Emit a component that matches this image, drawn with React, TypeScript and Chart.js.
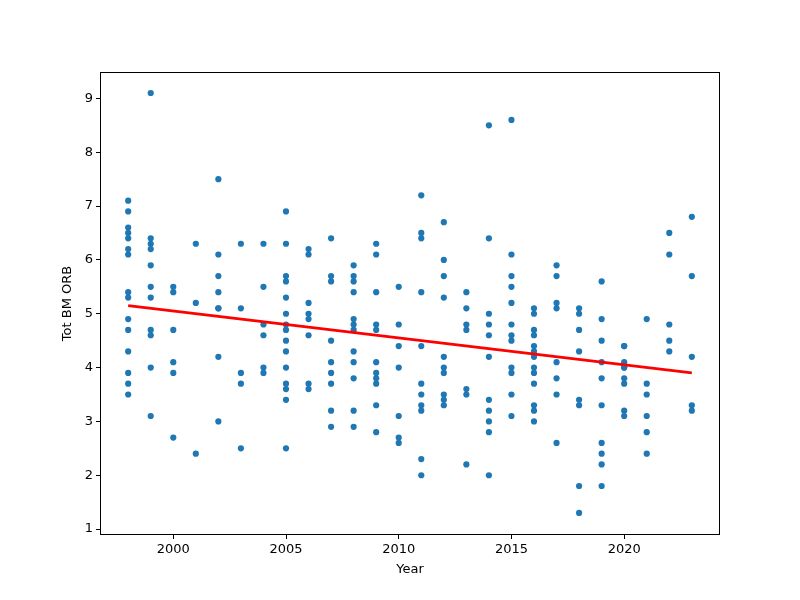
import { useEffect, useRef } from "react";
import { Chart, registerables } from "chart.js";

Chart.register(...registerables);

// one list of Tot BM ORB values per year
const years = [
  1998, 1999, 2000, 2001, 2002, 2003, 2004, 2005, 2006, 2007, 2008, 2009, 2010,
  2011, 2012, 2013, 2014, 2015, 2016, 2017, 2018, 2019, 2020, 2021, 2022, 2023,
];
const orbByYear: number[][] = [
  [7.1, 6.9, 6.6, 6.5, 6.4, 6.2, 6.1, 5.4, 5.3, 4.9, 4.7, 4.3, 3.9, 3.7, 3.5],
  [9.1, 6.4, 6.3, 6.2, 5.9, 5.5, 5.3, 4.7, 4.6, 4.0, 3.1],
  [5.5, 5.4, 4.7, 4.1, 3.9, 2.7],
  [6.3, 5.2, 2.4],
  [7.5, 6.1, 5.7, 5.4, 5.1, 5.1, 4.2, 3.0],
  [6.3, 5.1, 3.9, 3.7, 2.5],
  [6.3, 5.5, 4.8, 4.6, 4.0, 3.9],
  [6.9, 6.3, 5.7, 5.6, 5.3, 5.0, 4.8, 4.7, 4.5, 4.3, 4.0, 3.7, 3.6, 3.4, 2.5],
  [6.2, 6.1, 5.2, 5.0, 4.9, 4.6, 3.7, 3.6],
  [6.4, 5.7, 5.6, 4.5, 4.1, 3.9, 3.7, 3.2, 2.9],
  [5.9, 5.7, 5.6, 5.4, 4.9, 4.8, 4.7, 4.3, 4.1, 3.8, 3.2, 2.9],
  [6.3, 6.1, 5.4, 4.8, 4.7, 4.1, 3.9, 3.8, 3.7, 3.3, 2.8],
  [5.5, 4.8, 4.4, 4.0, 3.1, 2.7, 2.6],
  [7.2, 6.5, 6.4, 5.4, 4.4, 3.7, 3.5, 3.3, 3.2, 2.3, 2.0],
  [6.7, 6.0, 5.7, 5.3, 4.2, 4.0, 3.9, 3.5, 3.4, 3.3],
  [5.4, 5.1, 4.8, 4.7, 3.6, 3.5, 2.2],
  [8.5, 6.4, 5.0, 4.8, 4.6, 4.2, 3.4, 3.2, 3.0, 2.8, 2.0],
  [8.6, 6.1, 5.7, 5.5, 5.2, 4.8, 4.6, 4.5, 4.0, 3.9, 3.5, 3.1],
  [5.1, 5.0, 4.7, 4.6, 4.4, 4.3, 4.2, 4.0, 3.9, 3.7, 3.3, 3.2, 3.0],
  [5.9, 5.7, 5.2, 5.1, 4.1, 3.8, 3.5, 2.6],
  [5.1, 5.0, 4.7, 4.3, 3.4, 3.3, 1.8, 1.3],
  [5.6, 4.9, 4.5, 4.1, 3.8, 3.3, 2.6, 2.4, 2.2, 1.8],
  [4.4, 4.4, 4.1, 4.0, 4.0, 3.8, 3.7, 3.2, 3.1],
  [4.9, 3.7, 3.5, 3.1, 2.8, 2.4],
  [6.5, 6.1, 4.8, 4.5, 4.3],
  [6.8, 5.7, 4.2, 3.3, 3.2],
];

// fitted trend line at both ends
const trendYears = [1998, 2023];
const trendValues = [5.15, 3.9];

const xTicks = [2000, 2005, 2010, 2015, 2020];
const yTicks = [1, 2, 3, 4, 5, 6, 7, 8, 9];

const frame = {
  id: "frame",
  afterDraw(chart: Chart) {
    const { ctx, chartArea } = chart;
    ctx.save();
    ctx.strokeStyle = "#000";
    ctx.lineWidth = 1;
    ctx.strokeRect(
      Math.round(chartArea.left) + 0.5,
      Math.round(chartArea.top) + 0.5,
      Math.round(chartArea.right - chartArea.left) - 1,
      Math.round(chartArea.bottom - chartArea.top) - 1
    );
    ctx.restore();
  },
};

const App = () => {
  const chartRef = useRef<HTMLCanvasElement | null>(null);
  const chartInstanceRef = useRef<Chart | null>(null);

  useEffect(() => {
    if (!chartRef.current) return;
    const ctx = chartRef.current.getContext("2d");
    if (!ctx) return;
    if (chartInstanceRef.current) chartInstanceRef.current.destroy();

    const points: { x: number; y: number }[] = [];
    years.forEach((yr, i) => {
      orbByYear[i].forEach((v) => points.push({ x: yr, y: v }));
    });

    const font = { family: "DejaVu Sans", size: 13 };

    chartInstanceRef.current = new Chart(ctx, {
      type: "scatter",
      data: {
        datasets: [
          {
            type: "line",
            data: trendYears.map((yr, i) => ({ x: yr, y: trendValues[i] })),
            borderColor: "#ff0000",
            borderWidth: 2.8,
            pointRadius: 0,
            order: 0,
          },
          {
            data: points,
            backgroundColor: "#1f77b4",
            borderWidth: 0,
            pointRadius: 3.1,
            order: 1,
          },
        ],
      },
      options: {
        responsive: false,
        animation: false,
        layout: { padding: { top: 72, right: 80, left: 0, bottom: 0 } },
        plugins: {
          legend: { display: false },
          tooltip: { enabled: false },
        },
        scales: {
          x: {
            type: "linear",
            min: 1996.75,
            max: 2024.25,
            afterBuildTicks: (scale: any) => {
              scale.ticks = xTicks.map((v) => ({ value: v }));
            },
            afterFit: (scale: any) => {
              scale.height = 65;
            },
            ticks: {
              color: "#000",
              font,
              padding: 3,
              maxRotation: 0,
              callback: (v: any) => String(v),
            },
            grid: {
              drawOnChartArea: false,
              drawTicks: true,
              tickLength: 4,
              color: "#000",
            },
            border: { display: false },
            title: {
              display: true,
              text: "Year",
              color: "#000",
              font,
              padding: { top: 0, bottom: 23 },
            },
          },
          y: {
            type: "linear",
            min: 0.89,
            max: 9.49,
            afterBuildTicks: (scale: any) => {
              scale.ticks = yTicks.map((v) => ({ value: v }));
            },
            afterFit: (scale: any) => {
              scale.width = 100;
            },
            ticks: {
              color: "#000",
              font,
              padding: 3,
              callback: (v: any) => String(v),
            },
            grid: {
              drawOnChartArea: false,
              drawTicks: true,
              tickLength: 4,
              color: "#000",
            },
            border: { display: false },
            title: {
              display: true,
              text: "Tot BM ORB",
              color: "#000",
              font,
              padding: { top: 60, bottom: 0 },
            },
          },
        },
      },
      plugins: [frame],
    });

    return () => {
      if (chartInstanceRef.current) {
        chartInstanceRef.current.destroy();
        chartInstanceRef.current = null;
      }
    };
  }, []);

  return (
    <div style={{ position: "fixed", left: 0, top: 0, width: 800, height: 600, background: "#fff" }}>
      <canvas ref={chartRef} width={800} height={600} />
    </div>
  );
};

export default App;
